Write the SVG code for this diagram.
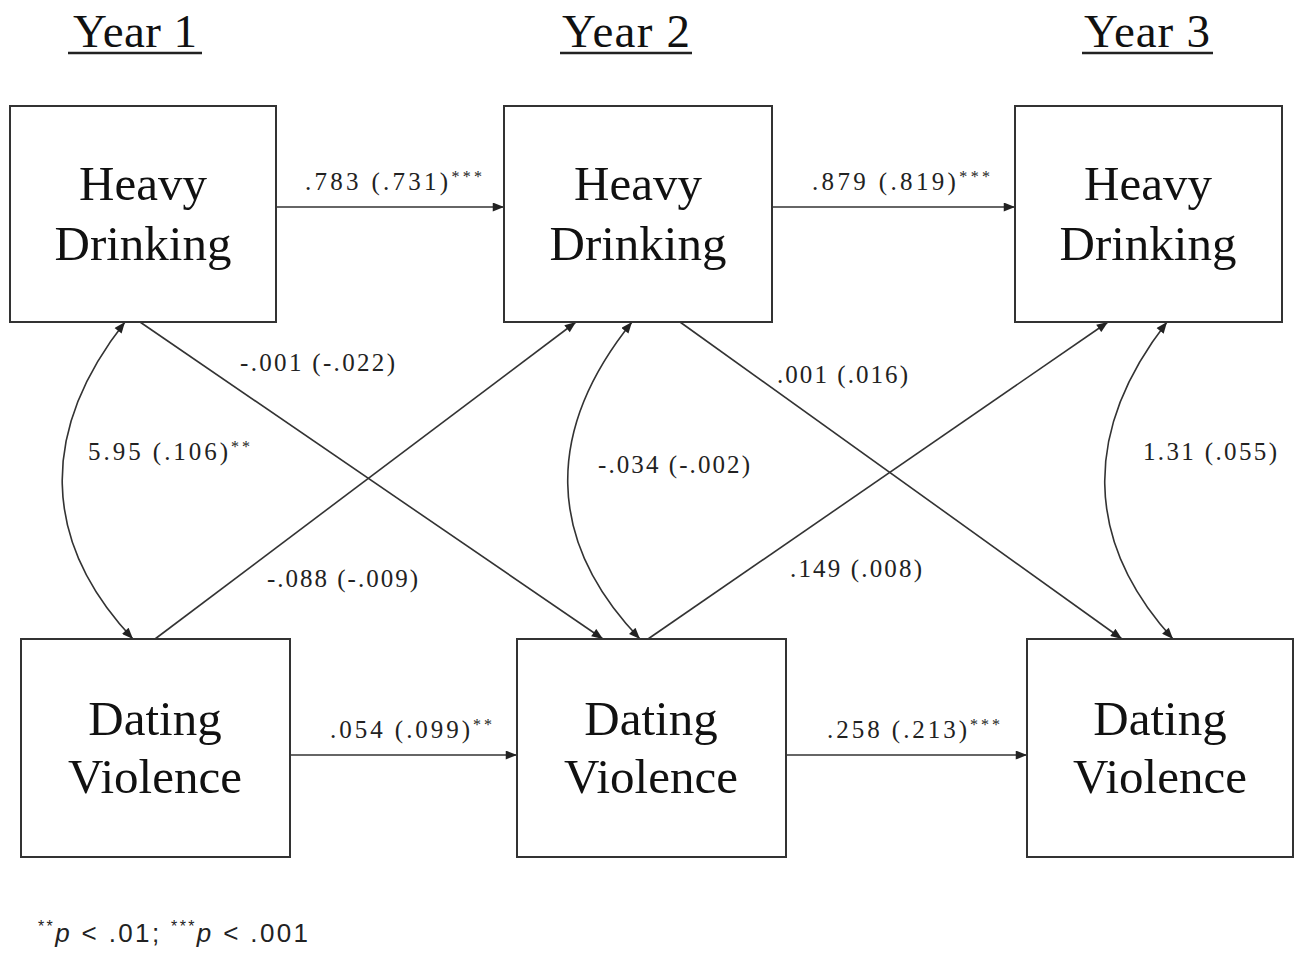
<svg xmlns="http://www.w3.org/2000/svg" width="1302" height="953" viewBox="0 0 1302 953">
<style>
.box{fill:#fff;stroke:#333;stroke-width:2}
.big{font-family:"Liberation Serif","Times New Roman",serif;font-size:49px;fill:#111;text-anchor:middle}
.year{font-family:"Liberation Serif","Times New Roman",serif;font-size:47px;fill:#111;text-anchor:middle}
.lbl{font-family:"Liberation Serif","Times New Roman",serif;font-size:25px;fill:#222}
.sup{font-size:16px}
.ul{stroke:#222;stroke-width:2.5}
.c{fill:none;stroke:#333;stroke-width:1.6}
.foot{font-family:"Liberation Sans",Arial,sans-serif;font-size:26px;fill:#222}
</style>
<defs>
<marker id="ah" viewBox="0 0 10 8" refX="10" refY="4" markerWidth="12" markerHeight="9" orient="auto-start-reverse" markerUnits="userSpaceOnUse">
<path d="M0,0 L10,4 L0,8 z" fill="#222"/>
</marker>
</defs>
<rect width="1302" height="953" fill="#fff"/>

<g id="headers">
<text class="year" x="135" y="47" textLength="124" lengthAdjust="spacing">Year 1</text>
<line class="ul" x1="68" y1="53" x2="202" y2="53"/>
<text class="year" x="626" y="47" textLength="128" lengthAdjust="spacing">Year 2</text>
<line class="ul" x1="560" y1="53" x2="692" y2="53"/>
<text class="year" x="1147" y="47" textLength="126" lengthAdjust="spacing">Year 3</text>
<line class="ul" x1="1082" y1="53" x2="1213" y2="53"/>
</g>

<g id="connectors">
<path class="c" d="M276,207 H504" marker-end="url(#ah)"/>
<path class="c" d="M772,207 H1015" marker-end="url(#ah)"/>
<path class="c" d="M290,755 H517" marker-end="url(#ah)"/>
<path class="c" d="M786,755 H1027" marker-end="url(#ah)"/>
<path class="c" d="M140,322 L603,639" marker-end="url(#ah)"/>
<path class="c" d="M155,639 L576,322" marker-end="url(#ah)"/>
<path class="c" d="M680,322 L1122,639" marker-end="url(#ah)"/>
<path class="c" d="M648,639 L1108,322" marker-end="url(#ah)"/>
<path class="c" d="M125,322 C40,430 40,540 133,639" marker-start="url(#ah)" marker-end="url(#ah)"/>
<path class="c" d="M632,322 C545,430 545,540 640,639" marker-start="url(#ah)" marker-end="url(#ah)"/>
<path class="c" d="M1167,322 C1083,430 1083,540 1173,639" marker-start="url(#ah)" marker-end="url(#ah)"/>
</g>

<g id="labels">
<text class="lbl" x="305" y="190" textLength="177" lengthAdjust="spacing">.783 (.731)<tspan class="sup" dy="-8">***</tspan></text>
<text class="lbl" x="812" y="190" textLength="178" lengthAdjust="spacing">.879 (.819)<tspan class="sup" dy="-8">***</tspan></text>
<text class="lbl" x="240" y="371" textLength="155" lengthAdjust="spacing">-.001 (-.022)</text>
<text class="lbl" x="777" y="383" textLength="131" lengthAdjust="spacing">.001 (.016)</text>
<text class="lbl" x="88" y="460" textLength="162" lengthAdjust="spacing">5.95 (.106)<tspan class="sup" dy="-8">**</tspan></text>
<text class="lbl" x="598" y="473" textLength="152" lengthAdjust="spacing">-.034 (-.002)</text>
<text class="lbl" x="1143" y="460" textLength="134" lengthAdjust="spacing">1.31 (.055)</text>
<text class="lbl" x="267" y="587" textLength="151" lengthAdjust="spacing">-.088 (-.009)</text>
<text class="lbl" x="790" y="577" textLength="132" lengthAdjust="spacing">.149 (.008)</text>
<text class="lbl" x="330" y="738" textLength="162" lengthAdjust="spacing">.054 (.099)<tspan class="sup" dy="-8">**</tspan></text>
<text class="lbl" x="827" y="738" textLength="173" lengthAdjust="spacing">.258 (.213)<tspan class="sup" dy="-8">***</tspan></text>
</g>

<g id="hd1"><rect class="box" x="10" y="106" width="266" height="216"/><text class="big" x="143" y="200">Heavy</text><text class="big" x="143" y="260">Drinking</text></g>
<g id="hd2"><rect class="box" x="504" y="106" width="268" height="216"/><text class="big" x="638" y="200">Heavy</text><text class="big" x="638" y="260">Drinking</text></g>
<g id="hd3"><rect class="box" x="1015" y="106" width="267" height="216"/><text class="big" x="1148" y="200">Heavy</text><text class="big" x="1148" y="260">Drinking</text></g>
<g id="dv1"><rect class="box" x="21" y="639" width="269" height="218"/><text class="big" x="155" y="735">Dating</text><text class="big" x="155" y="793">Violence</text></g>
<g id="dv2"><rect class="box" x="517" y="639" width="269" height="218"/><text class="big" x="651" y="735">Dating</text><text class="big" x="651" y="793">Violence</text></g>
<g id="dv3"><rect class="box" x="1027" y="639" width="266" height="218"/><text class="big" x="1160" y="735">Dating</text><text class="big" x="1160" y="793">Violence</text></g>

<g id="footnote">
<text class="foot" x="38" y="942" textLength="270" lengthAdjust="spacing"><tspan font-size="16" dy="-10">**</tspan><tspan font-style="italic" dy="10">p</tspan> &lt; .01; <tspan font-size="16" dy="-10">***</tspan><tspan font-style="italic" dy="10">p</tspan> &lt; .001</text>
</g>
</svg>
